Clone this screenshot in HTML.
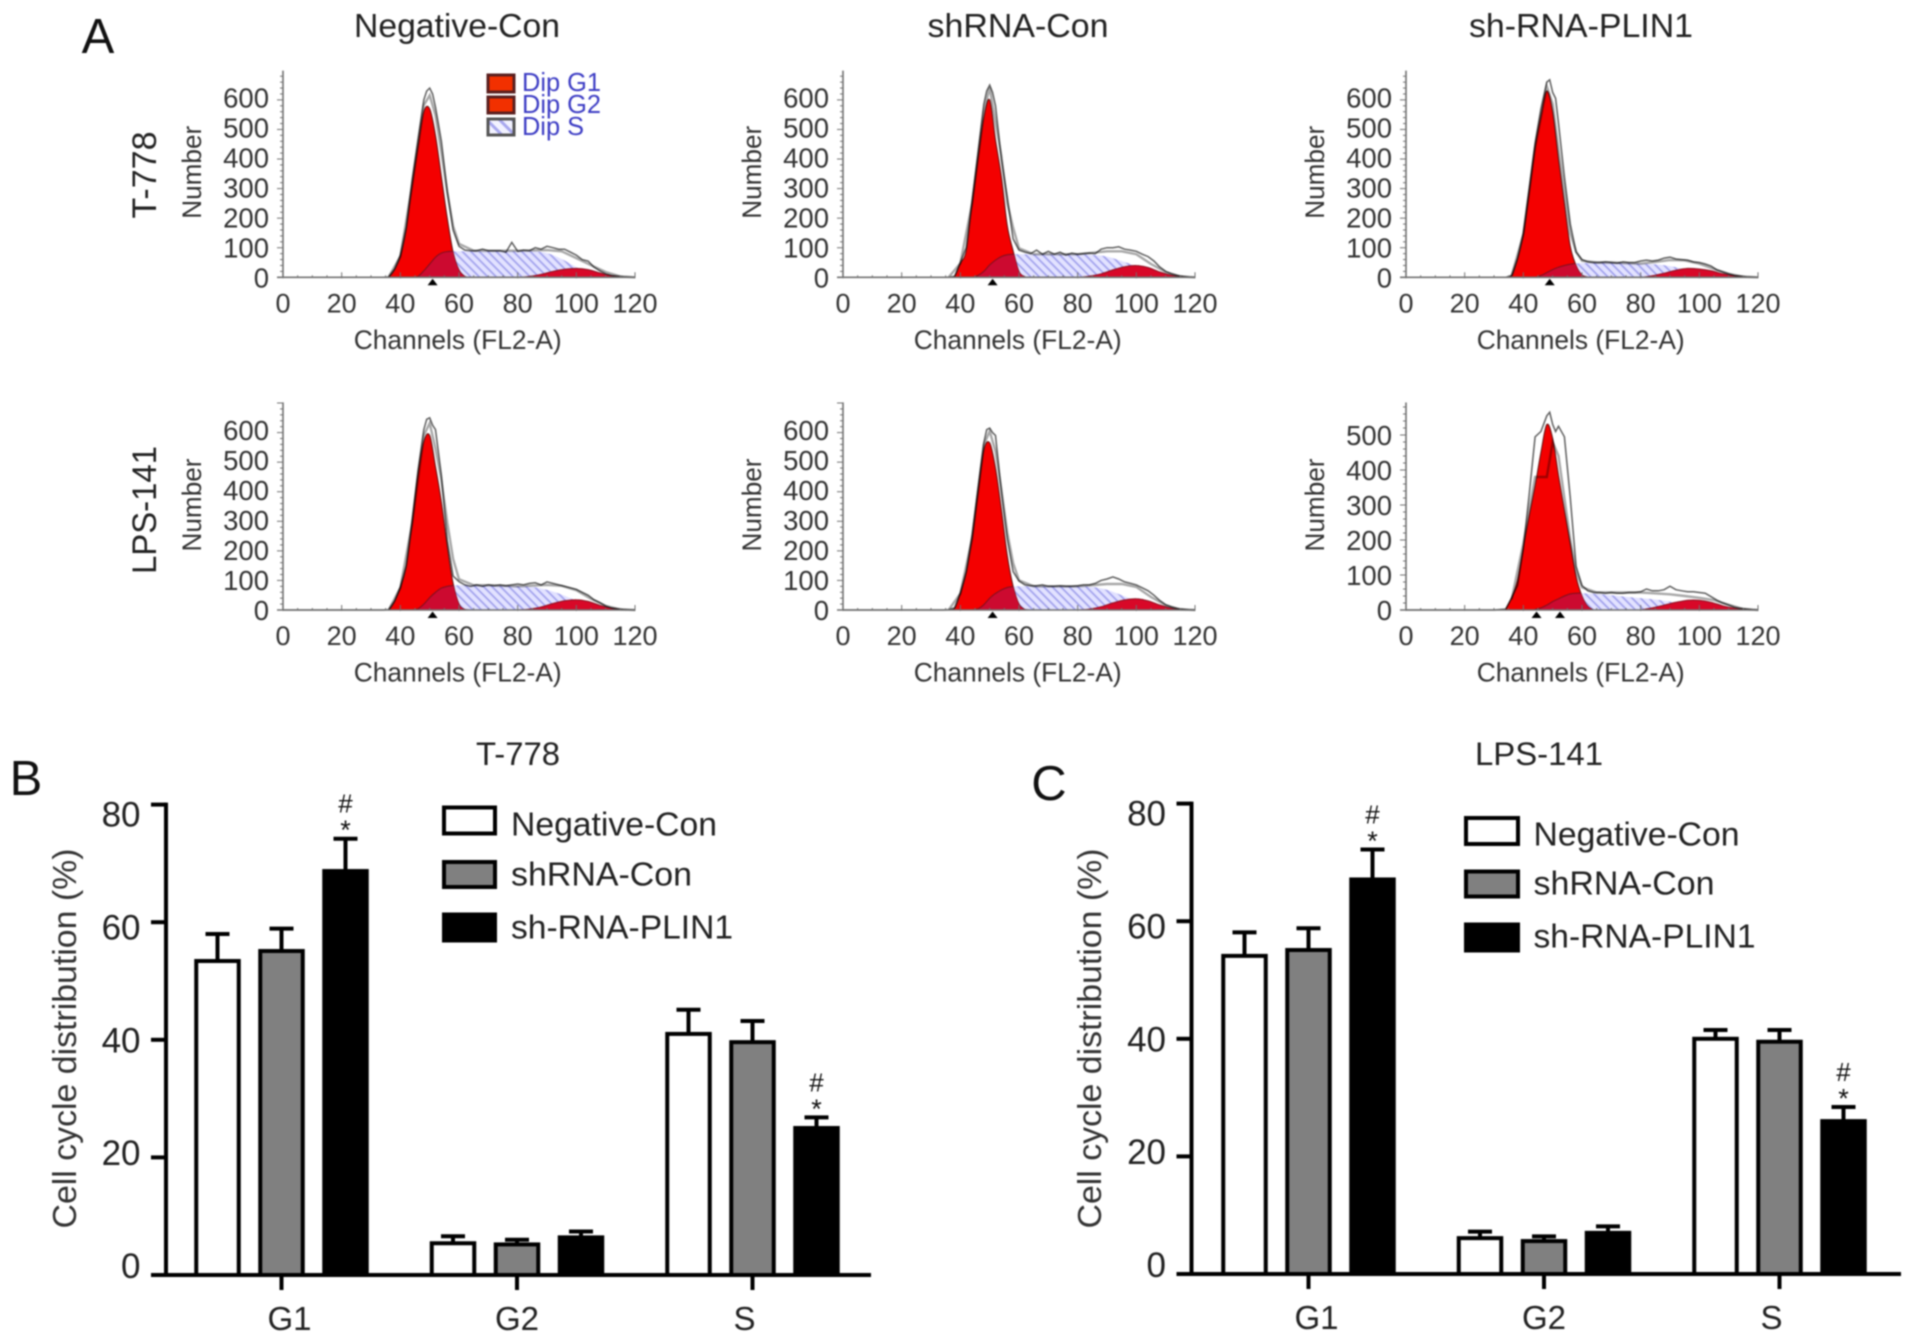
<!DOCTYPE html>
<html lang="en">
<head>
<meta charset="utf-8">
<title>Cell cycle distribution figure</title>
<style>
html,body{margin:0;padding:0;background:#fff;}
#figure{display:block;filter:blur(0.7px);font-family:"Liberation Sans",sans-serif;}
</style>
</head>
<body>
<svg id="figure" xmlns="http://www.w3.org/2000/svg" width="1913" height="1342" viewBox="0 0 1913 1342">
  <rect width="1913" height="1342" fill="#fff"/>
  <defs>
    <pattern id="hatch" patternUnits="userSpaceOnUse" width="6" height="6" patternTransform="rotate(45)">
      <rect width="6" height="6" fill="#e2e2ff"/>
      <rect width="6" height="1.7" fill="#a0a0ec"/>
    </pattern>
    <pattern id="hatch-swatch" patternUnits="userSpaceOnUse" width="9" height="9" patternTransform="rotate(45)">
      <rect width="9" height="9" fill="#f2f2ff"/>
      <rect width="9" height="3" fill="#a8a8ee"/>
    </pattern>
  </defs>

  <text x="98" y="53" font-size="49" text-anchor="middle" fill="#111">A</text>
  <text x="26" y="795" font-size="49" text-anchor="middle" fill="#111">B</text>
  <text x="1049" y="800" font-size="49" text-anchor="middle" fill="#111">C</text>

  <text x="457" y="37" font-size="33" text-anchor="middle" fill="#222" textLength="206" lengthAdjust="spacingAndGlyphs">Negative-Con</text>
  <text x="1018" y="37" font-size="33" text-anchor="middle" fill="#222" textLength="181" lengthAdjust="spacingAndGlyphs">shRNA-Con</text>
  <text x="1581" y="37" font-size="33" text-anchor="middle" fill="#222" textLength="224" lengthAdjust="spacingAndGlyphs">sh-RNA-PLIN1</text>

  <text transform="translate(156,175) rotate(-90)" font-size="34" text-anchor="middle" fill="#222" textLength="87" lengthAdjust="spacingAndGlyphs">T-778</text>
  <text transform="translate(156,510) rotate(-90)" font-size="34" text-anchor="middle" fill="#222" textLength="128" lengthAdjust="spacingAndGlyphs">LPS-141</text>

  <g id="histograms"></g>

  <g font-size="26" fill="#3c3cc4">
    <rect x="488" y="75" width="26" height="17" fill="#f23000" stroke="#5a2020" stroke-width="3"/>
    <text x="522" y="91" textLength="79" lengthAdjust="spacingAndGlyphs">Dip G1</text>
    <rect x="488" y="97" width="26" height="16" fill="#f23000" stroke="#5a2020" stroke-width="3"/>
    <text x="522" y="113" textLength="79" lengthAdjust="spacingAndGlyphs">Dip G2</text>
    <rect x="488" y="119" width="26" height="16" fill="url(#hatch-swatch)" stroke="#555" stroke-width="3"/>
    <text x="522" y="135" textLength="62" lengthAdjust="spacingAndGlyphs">Dip S</text>
  </g>

  <text x="518" y="765" font-size="32" text-anchor="middle" fill="#222" textLength="84" lengthAdjust="spacingAndGlyphs">T-778</text>
  <text x="1539" y="765" font-size="32" text-anchor="middle" fill="#222" textLength="128" lengthAdjust="spacingAndGlyphs">LPS-141</text>

  <g id="barcharts"></g>

  <g font-size="33" fill="#222">
    <rect x="444" y="807.5" width="51" height="26" fill="#fff" stroke="#000" stroke-width="4"/>
    <text x="511" y="835.5" textLength="206" lengthAdjust="spacingAndGlyphs">Negative-Con</text>
    <rect x="444" y="862" width="51" height="25" fill="#808080" stroke="#000" stroke-width="4"/>
    <text x="511" y="885.5" textLength="181" lengthAdjust="spacingAndGlyphs">shRNA-Con</text>
    <rect x="444" y="914.5" width="51" height="26" fill="#000" stroke="#000" stroke-width="4"/>
    <text x="511" y="938.5" textLength="222" lengthAdjust="spacingAndGlyphs">sh-RNA-PLIN1</text>
  </g>

  <g font-size="33" fill="#222">
    <rect x="1466" y="818" width="52" height="26" fill="#fff" stroke="#000" stroke-width="4"/>
    <text x="1533.5" y="845.5" textLength="206" lengthAdjust="spacingAndGlyphs">Negative-Con</text>
    <rect x="1466" y="871.5" width="52" height="25" fill="#808080" stroke="#000" stroke-width="4"/>
    <text x="1533.5" y="894.5" textLength="181" lengthAdjust="spacingAndGlyphs">shRNA-Con</text>
    <rect x="1466" y="924.5" width="52" height="26" fill="#000" stroke="#000" stroke-width="4"/>
    <text x="1533.5" y="947.5" textLength="222" lengthAdjust="spacingAndGlyphs">sh-RNA-PLIN1</text>
  </g>
</svg>

<script>
// ---------- histogram data ----------
const g1Channels = [34,36,38,40,42,44,46,48,50,52,54,56,58,60,62,64];
const sChannels = [44,46,48,50,52,54,56,58,60,65,70,75,80,85,90,95,100,105,110,115];
const g2Channels = [80,84,88,92,96,100,104,108,112,116,120];
const fitChannels = [36,40,44,48,50,52,54,56,58,60,65,70,80,90,95,100,105,110,115,120];
const rawChannels = [0,30,34,36,38,40,42,44,46,48,49,50,51,52,54,56,58,60,62,64,66,68,70,72,74,76,78,80,82,84,86,88,90,92,94,96,98,100,102,104,106,108,110,112,114,116,118,120];

const histXTicks = [0,20,40,60,80,100,120];
const histYTicksTall = [0,100,200,300,400,500,600];
const histYTicksShort = [0,100,200,300,400,500];

const t778NegG1 = [0,1,25,70,160,310,440,560,570,480,340,200,85,25,3,0];
const t778NegS = [0,3,22,45,68,82,87,88,88,88,88,88,88,88,82,62,35,15,5,0];
const t778NegG2 = [0,3,10,20,27,30,26,15,5,1,0];
const t778NegFit = [1,70,310,582,615,548,422,287,173,113,90,90,90,92,88,65,41,18,3,0];
const t778NegRaw = [0,0,0,1,28,75,170,330,465,600,630,640,620,575,460,290,160,105,92,90,90,95,90,90,90,85,118,88,92,90,100,95,105,100,95,95,85,75,60,55,35,22,12,6,4,2,1,0];
const t778NegPeaks = [51];

const t778ShG1 = [0,0,3,47,90,250,400,540,600,465,340,175,90,20,2,0];
const t778ShS = [0,6,20,42,58,70,76,78,78,78,78,78,78,76,70,55,38,18,6,1];
const t778ShG2 = [0,4,12,25,36,40,33,18,7,2,0];
const t778ShFit = [0,47,250,560,642,523,410,251,168,98,78,78,78,88,88,78,45,18,3,0];
const t778ShRaw = [0,0,0,0,3,50,100,260,420,585,630,650,625,580,400,270,130,92,85,80,92,78,88,78,85,75,82,78,80,82,80,95,100,100,103,95,92,88,78,70,55,35,20,12,6,3,1,0];
const t778ShPeaks = [51];

const t778KdG1 = [0,5,60,145,290,440,545,630,560,400,250,105,40,8,1,0];
const t778KdS = [0,6,16,26,34,40,44,47,48,50,50,48,46,44,38,28,18,8,2,0];
const t778KdG2 = [0,5,14,24,30,28,22,12,5,1,0];
const t778KdFit = [5,145,440,646,586,434,290,149,87,56,50,50,46,58,57,46,28,12,2,0];
const t778KdRaw = [0,0,0,6,65,150,300,455,570,660,668,625,605,520,340,180,85,60,52,50,50,52,50,48,52,50,50,55,58,55,58,65,68,62,60,58,52,50,45,38,25,18,12,6,4,2,1,0];
const t778KdPeaks = [49];

const lpsNegG1 = [0,0,28,75,145,290,455,570,590,485,365,215,90,20,2,0];
const lpsNegS = [0,4,20,42,60,74,80,83,84,84,83,82,80,78,68,52,32,14,4,0];
const lpsNegG2 = [0,3,10,22,31,35,29,16,6,1,0];
const lpsNegFit = [0,75,292,590,632,545,439,295,173,104,84,84,80,85,82,67,38,14,2,0];
const lpsNegRaw = [0,0,0,1,30,78,150,305,470,610,645,650,625,610,455,235,115,96,85,80,85,80,85,82,85,82,85,88,85,90,92,85,95,90,85,80,75,70,60,50,35,25,14,7,4,2,1,0];
const lpsNegPeaks = [51];

const lpsShG1 = [0,0,5,55,125,242,395,540,565,480,340,185,80,20,2,0];
const lpsShS = [0,4,18,40,56,68,76,79,80,80,80,80,80,78,68,50,32,14,4,0];
const lpsShG2 = [0,3,11,24,34,38,31,17,6,1,0];
const lpsShFit = [0,55,242,558,605,536,408,261,159,100,80,80,80,88,88,78,44,16,2,0];
const lpsShRaw = [0,0,0,1,7,58,130,255,410,565,610,615,600,590,400,240,130,98,85,82,82,85,80,80,82,80,80,82,85,85,90,100,105,112,105,95,90,85,75,65,50,32,18,10,5,3,1,0];
const lpsShPeaks = [51];

const lpsKdG1 = [2,35,85,180,270,355,450,530,490,385,285,190,95,40,10,0];
const lpsKdS = [2,6,14,24,32,40,46,48,48,46,42,38,34,30,24,16,10,4,1,0];
const lpsKdG2 = [0,6,14,22,28,28,22,12,5,1,0];
const lpsKdFit = [30,190,380,380,480,440,320,200,110,65,50,50,50,45,40,35,28,15,3,0];
const lpsKdRaw = [0,0,3,35,70,175,330,495,510,555,565,530,510,525,495,320,125,70,55,50,50,48,50,48,48,50,50,52,60,55,55,58,68,58,55,52,52,50,48,38,28,20,14,8,5,3,1,0];
const lpsKdPeaks = [44.5,52.5];

const histPanels = [
  {id:'t778-negative-con', left:283, base:277.3, perUnit:0.2957, yMax:699, stretch:0.0135, ticks:histYTicksTall, g1:t778NegG1, s:t778NegS, g2:t778NegG2, fit:t778NegFit, raw:t778NegRaw, peaks:t778NegPeaks},
  {id:'t778-shrna-con', left:843, base:277.3, perUnit:0.2957, yMax:699, stretch:0.0135, ticks:histYTicksTall, g1:t778ShG1, s:t778ShS, g2:t778ShG2, fit:t778ShFit, raw:t778ShRaw, peaks:t778ShPeaks},
  {id:'t778-sh-rna-plin1', left:1406, base:277.3, perUnit:0.2957, yMax:699, stretch:0.0135, ticks:histYTicksTall, g1:t778KdG1, s:t778KdS, g2:t778KdG2, fit:t778KdFit, raw:t778KdRaw, peaks:t778KdPeaks},
  {id:'lps141-negative-con', left:283, base:610, perUnit:0.2957, yMax:702, stretch:0.0135, ticks:histYTicksTall, g1:lpsNegG1, s:lpsNegS, g2:lpsNegG2, fit:lpsNegFit, raw:lpsNegRaw, peaks:lpsNegPeaks},
  {id:'lps141-shrna-con', left:843, base:610, perUnit:0.2957, yMax:702, stretch:0.0135, ticks:histYTicksTall, g1:lpsShG1, s:lpsShS, g2:lpsShG2, fit:lpsShFit, raw:lpsShRaw, peaks:lpsShPeaks},
  {id:'lps141-sh-rna-plin1', left:1406, base:610, perUnit:0.35, yMax:593, stretch:0, ticks:histYTicksShort, g1:lpsKdG1, s:lpsKdS, g2:lpsKdG2, fit:lpsKdFit, raw:lpsKdRaw, peaks:lpsKdPeaks}
];

// ---------- bar chart data ----------
const cycleCategories = ['G1','G2','S'];
const treatmentSeries = ['negative-con','shrna-con','sh-rna-plin1'];
const barYTicks = [0,20,40,60,80];
const significantCategories = [0,2];

const t778NegMeans = [53.4,5.4,41];
const t778ShMeans = [55.1,5.2,39.6];
const t778KdMeans = [68.7,6.4,25];
const t778NegErrors = [4.6,1.2,4.1];
const t778ShErrors = [3.8,0.8,3.6];
const t778KdErrors = [5.5,1,1.8];

const lpsNegMeans = [54.1,6.1,40];
const lpsShMeans = [55.1,5.6,39.5];
const lpsKdMeans = [67.1,7,26];
const lpsNegErrors = [4,1.1,1.5];
const lpsShErrors = [3.7,0.8,2];
const lpsKdErrors = [5.1,1.1,2.4];

const SVG_NS = 'http://www.w3.org/2000/svg';
function make(tag, attrs, parent, text) {
  const el = document.createElementNS(SVG_NS, tag);
  for (const k in attrs) el.setAttribute(k, attrs[k]);
  if (text !== undefined) el.textContent = text;
  parent.appendChild(el);
  return el;
}

// Smooth closed area through the data points (Catmull-Rom to cubic Bezier)
function areaPath(channels, values, sx, sy) {
  const pts = channels.map(function (c, i) { return [sx(c), Math.min(sy(values[i]), sy(0))]; });
  let d = 'M' + pts[0][0].toFixed(1) + ' ' + sy(0).toFixed(1) + 'L' + pts[0][0].toFixed(1) + ' ' + pts[0][1].toFixed(1);
  for (let i = 0; i < pts.length - 1; i++) {
    const p0 = pts[Math.max(i - 1, 0)], p1 = pts[i], p2 = pts[i + 1], p3 = pts[Math.min(i + 2, pts.length - 1)];
    const c1x = p1[0] + (p2[0] - p0[0]) / 6, c1y = Math.min(p1[1] + (p2[1] - p0[1]) / 6, sy(0));
    const c2x = p2[0] - (p3[0] - p1[0]) / 6, c2y = Math.min(p2[1] - (p3[1] - p1[1]) / 6, sy(0));
    d += 'C' + c1x.toFixed(1) + ' ' + c1y.toFixed(1) + ' ' + c2x.toFixed(1) + ' ' + c2y.toFixed(1) + ' ' + p2[0].toFixed(1) + ' ' + p2[1].toFixed(1);
  }
  d += 'L' + pts[pts.length - 1][0].toFixed(1) + ' ' + sy(0).toFixed(1) + 'Z';
  return d;
}
function linePath(channels, values, sx, sy) {
  return channels.map(function (c, i) {
    return (i ? 'L' : 'M') + sx(c).toFixed(1) + ' ' + sy(values[i]).toFixed(1);
  }).join('');
}

function drawHistogram(p, root) {
  const width = 352;
  const sx = function (c) { return p.left + c * width / 120; };
  const sy = function (v) { return p.base - v * p.perUnit; };
  const g = make('g', {}, root);
  
  

  const clipId = 'clip-' + p.id;
  const clip = make('clipPath', {id: clipId}, g);
  make('path', {d: areaPath(g1Channels, p.g1, sx, sy)}, clip);

  const sArea = make('path', {d: areaPath(sChannels, p.s, sx, sy), fill: 'url(#hatch)'}, g);
  
  

  const g1Area = make('path', {d: areaPath(g1Channels, p.g1, sx, sy), fill: '#f40000', stroke: '#5c1010', 'stroke-width': 1}, g);
  
  

  const overlap = make('path', {d: areaPath(sChannels, p.s, sx, sy), fill: '#cc0a30', stroke: '#7a1020', 'stroke-width': 1, 'clip-path': 'url(#' + clipId + ')'}, g);
  
  

  const g2Area = make('path', {d: areaPath(g2Channels, p.g2, sx, sy), fill: '#d80828', stroke: '#8a1020', 'stroke-width': 1}, g);
  
  

  const fit = make('path', {d: linePath(fitChannels, p.fit, sx, sy), fill: 'none', stroke: '#a8a8a8', 'stroke-width': 2.4, style: 'mix-blend-mode:multiply'}, g);
  
  

  const raw = make('path', {d: linePath(rawChannels, p.raw, sx, sy), fill: 'none', stroke: '#606060', 'stroke-width': 1.5, style: 'mix-blend-mode:multiply'}, g);
  
  

  // axes
  const axisColor = '#707070';
  const yAxis = make('line', {x1: sx(0), x2: sx(0), y1: sy(p.yMax), y2: sy(0), stroke: axisColor, 'stroke-width': 1.6}, g);
  
  
  const xAxis = make('line', {x1: sx(0) - 6, x2: sx(120), y1: sy(0), y2: sy(0), stroke: axisColor, 'stroke-width': 1.6}, g);
  
  

  for (let v = 0; v <= p.yMax; v += 20) {
    const major = v % 100 === 0;
    const t = make('line', {x1: sx(0) - (major ? 6 : 3), x2: sx(0), y1: sy(v), y2: sy(v), stroke: axisColor, 'stroke-width': 1}, g);
    
    
  }
  for (let c = 0; c <= 120; c += 5) {
    const major = c % 20 === 0;
    const t = make('line', {x1: sx(c), x2: sx(c), y1: sy(0) - (major ? 5 : 2), y2: sy(0) + (major ? 1 : 0), stroke: axisColor, 'stroke-width': 1}, g);
    
    
  }
  p.ticks.forEach(function (v) {
    const labelY = sy(v) + 10 - (p.base - sy(v)) * p.stretch;
    const t = make('text', {x: sx(0) - 14, y: labelY, 'font-size': 27.5, 'text-anchor': 'end', fill: '#333'}, g, String(v));
    
    
  });
  histXTicks.forEach(function (c) {
    const t = make('text', {x: sx(c), y: p.base + 35, 'font-size': 27, 'text-anchor': 'middle', fill: '#333'}, g, String(c));
    
    
  });
  p.peaks.forEach(function (c) {
    const px = sx(c);
    const m = make('path', {d: 'M' + (px - 5) + ' ' + (p.base + 8) + 'L' + px + ' ' + (p.base + 1.5) + 'L' + (px + 5) + ' ' + (p.base + 8) + 'Z', fill: '#000'}, g);
    
    
  });

  const xTitle = make('text', {x: sx(60) - 1.3, y: p.base + 71.5, 'font-size': 26.5, 'text-anchor': 'middle', fill: '#333', textLength: 208, lengthAdjust: 'spacingAndGlyphs'}, g, 'Channels (FL2-A)');
  
  
  const yTitle = make('text', {transform: 'translate(' + (p.left - 82) + ',' + (p.base - 105) + ') rotate(-90)', 'font-size': 27, 'text-anchor': 'middle', fill: '#333', textLength: 93, lengthAdjust: 'spacingAndGlyphs'}, g, 'Number');
  
  
}

function drawBarChart(c, root) {
  const g = make('g', {}, root);
  
  

  const sy = function (v) { return c.base - v * c.perUnit; };
  const labelY = function (v) { return sy(v) + (v - 40) * 0.24; };
  const catX = function (i) { return c.catStart + i * 235.5; };
  const barX = function (i, j) { return catX(i) + (j - 1) * 64; };
  const fills = ['#fff', '#808080', '#000'];
  const barW = 42.5;

  c.means.forEach(function (series, j) {
    series.forEach(function (v, i) {
      const cx = barX(i, j);
      const errTop = sy(v + c.errors[j][i]);
      const stem = make('line', {x1: cx, x2: cx, y1: sy(v), y2: errTop, stroke: '#000', 'stroke-width': 4}, g);
      
      
      const cap = make('line', {x1: cx - 12, x2: cx + 12, y1: errTop, y2: errTop, stroke: '#000', 'stroke-width': 4}, g);
      
      
      const bar = make('rect', {x: cx - barW / 2, y: sy(v), width: barW, height: c.base - sy(v), fill: fills[j], stroke: '#000', 'stroke-width': 4}, g);
      
      
    });
  });

  significantCategories.forEach(function (i) {
    const cx = barX(i, 2);
    const errTop = sy(c.means[2][i] + c.errors[2][i]);
    const star = make('text', {x: cx, y: errTop + 0.5, 'font-size': 27, 'text-anchor': 'middle', fill: '#111'}, g, '*');
    
    
    const hash = make('text', {x: cx, y: errTop - 26, 'font-size': 26, 'text-anchor': 'middle', fill: '#111'}, g, '#');
    
    
  });

  const yAxis = make('line', {x1: c.axisX, x2: c.axisX, y1: sy(80) - 2, y2: c.base + 2, stroke: '#000', 'stroke-width': 4}, g);
  
  
  const xAxis = make('line', {x1: c.axisX - 15, x2: c.axisEnd, y1: c.base, y2: c.base, stroke: '#000', 'stroke-width': 4}, g);
  
  

  barYTicks.forEach(function (v) {
    const t = make('line', {x1: c.axisX - 15, x2: c.axisX, y1: sy(v), y2: sy(v), stroke: '#000', 'stroke-width': 4}, g);
    
    
    const l = make('text', {x: c.axisX - 25.5, y: labelY(v) + 12.5, 'font-size': 35, 'text-anchor': 'end', fill: '#222'}, g, String(v));
    
    
  });
  cycleCategories.forEach(function (name, i) {
    const t = make('line', {x1: catX(i), x2: catX(i), y1: c.base, y2: c.base + 15, stroke: '#000', 'stroke-width': 4}, g);
    
    
    const l = make('text', {x: catX(i) + (1 - i) * 8, y: c.base + 55, 'font-size': 33, 'text-anchor': 'middle', fill: '#222'}, g, name);
    
    
  });

  const yTitle = make('text', {transform: 'translate(' + c.titleX + ',1038.5) rotate(-90)', 'font-size': 33, 'text-anchor': 'middle', fill: '#333', textLength: 380, lengthAdjust: 'spacingAndGlyphs'}, g, 'Cell cycle distribution (%)');
  
  
}

const histRoot = document.getElementById('histograms');
histPanels.forEach(function (p) { drawHistogram(p, histRoot); });

const barRoot = document.getElementById('barcharts');
drawBarChart({
  name: 'chart-b-t-778', base: 1275, perUnit: 5.88, axisX: 166, axisEnd: 871, catStart: 281.5, titleX: 76,
  means: [t778NegMeans, t778ShMeans, t778KdMeans],
  errors: [t778NegErrors, t778ShErrors, t778KdErrors]
}, barRoot);
drawBarChart({
  name: 'chart-c-lps-141', base: 1274, perUnit: 5.88, axisX: 1191.5, axisEnd: 1901, catStart: 1308.5, titleX: 1101,
  means: [lpsNegMeans, lpsShMeans, lpsKdMeans],
  errors: [lpsNegErrors, lpsShErrors, lpsKdErrors]
}, barRoot);
</script>
</body>
</html>
